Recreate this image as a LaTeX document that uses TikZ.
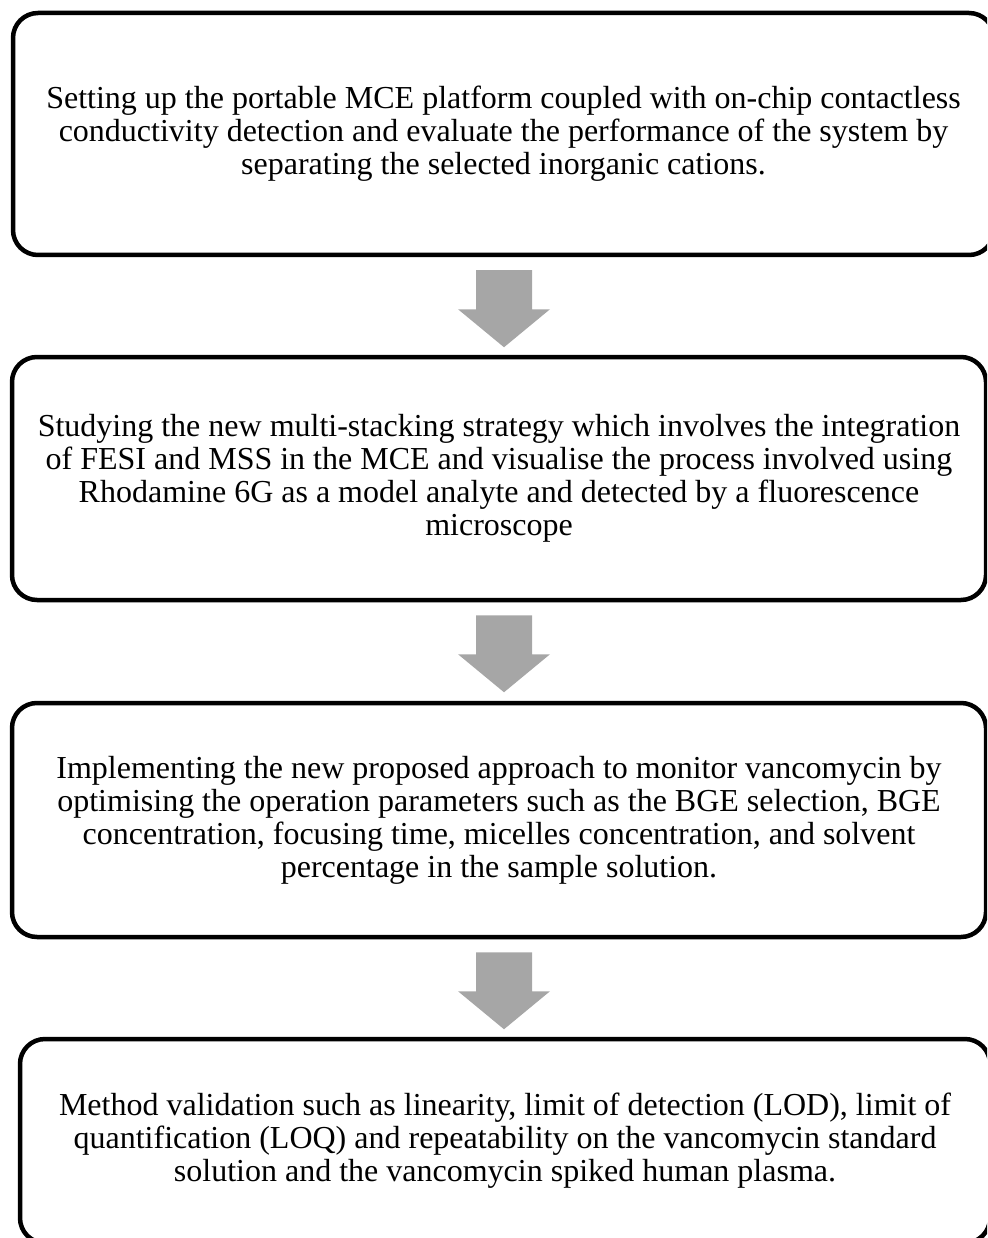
\documentclass[tikz,border=0pt]{standalone}
\usepackage{fontspec}
\setmainfont{Liberation Serif}
\usetikzlibrary{calc}
\definecolor{arrowgray}{RGB}{166,166,166}
\tikzset{
  stepbox/.style={draw=black, line width=4.5pt, rounded corners=25pt, align=center,
    inner sep=0pt, font=\fontsize{32}{33}\selectfont},
  blockarrow/.style={fill=arrowgray, draw=none},
}
\newcommand\flowarrow[2]{%
  \coordinate (#1-#2-s) at ($(#1.south -| ax)+(0,13)$);
  \fill[blockarrow] (#1-#2-s) ++(-28,0) -- ++(56,0) -- ++(0,39) -- ++(18,0)
    -- ++(-46,38) -- ++(-46,-38) -- ++(18,0) -- cycle;
}
\begin{document}
\begin{tikzpicture}[x=1pt,y=-1pt]
\useasboundingbox (0,0) rectangle (987,1238);
\clip (0,0) rectangle (987,1238);
\coordinate (ax) at (504,0);
\node[stepbox, minimum width=981, minimum height=242] (b1) at (503.5,134)
 {Setting up the portable MCE platform coupled with on-chip contactless\\
  conductivity detection and evaluate the performance of the system by\\
  separating the selected inorganic cations.};
\node[stepbox, minimum width=974, minimum height=243] (b2) at (499,478.5)
 {Studying the new multi-stacking strategy which involves the integration\\
  of FESI and MSS in the MCE and visualise the process involved using\\
  Rhodamine 6G as a model analyte and detected by a fluorescence\\
  microscope};
\node[stepbox, minimum width=974, minimum height=234] (b3) at (499,820)
 {Implementing the new proposed approach to monitor vancomycin by\\
  optimising the operation parameters such as the BGE selection, BGE\\
  concentration, focusing time, micelles concentration, and solvent\\
  percentage in the sample solution.};
\node[stepbox, minimum width=970, minimum height=204] (b4) at (505,1141)
 {Method validation such as linearity, limit of detection (LOD), limit of\\
  quantification (LOQ) and repeatability on the vancomycin standard\\
  solution and the vancomycin spiked human plasma.};
\flowarrow{b1}{b2}
\flowarrow{b2}{b3}
\flowarrow{b3}{b4}
\end{tikzpicture}
\end{document}
